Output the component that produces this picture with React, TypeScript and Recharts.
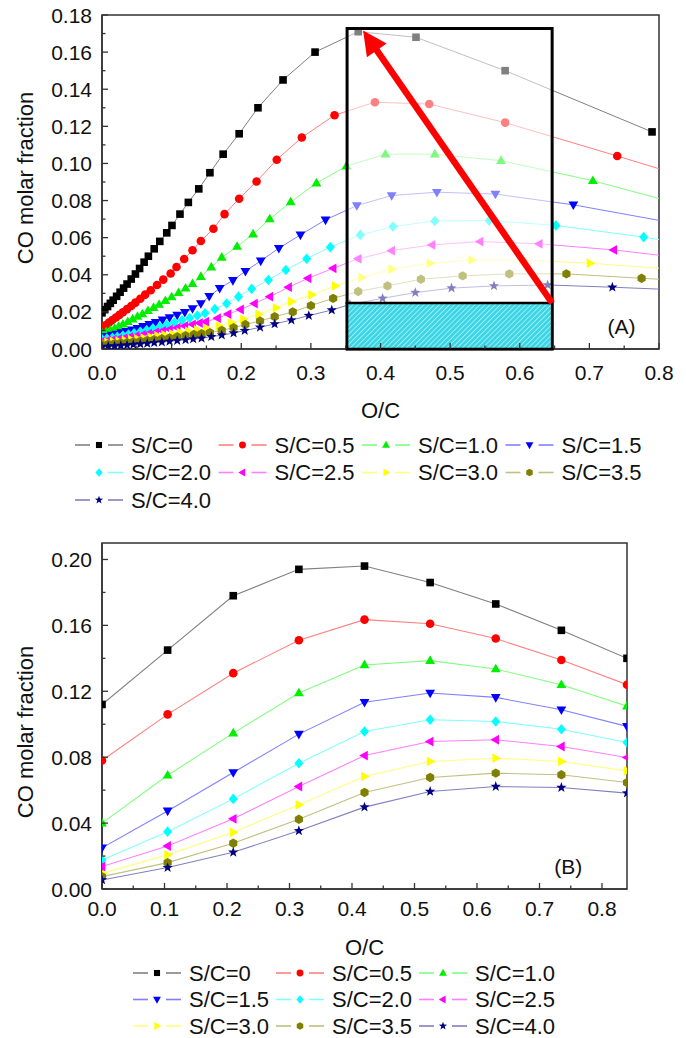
import React from 'react';
import { LineChart, Line, XAxis, YAxis, ReferenceArea, ReferenceLine, ReferenceDot } from 'recharts';

type Pt = [number, number];

const seriesNames = ['S/C=0', 'S/C=0.5', 'S/C=1.0', 'S/C=1.5', 'S/C=2.0', 'S/C=2.5', 'S/C=3.0', 'S/C=3.5', 'S/C=4.0'];
const markerColors = ['#000000', '#ff0000', '#00ee00', '#0000ff', '#00ffff', '#ff00ff', '#ffff00', '#808000', '#000080'];
const lineColors = ['#808080', '#ff8080', '#80ff80', '#8080ff', '#80ffff', '#ff80ff', '#ffff80', '#c0c080', '#8080c0'];
const shapes = ['square', 'circle', 'up', 'down', 'diamond', 'left', 'right', 'hex', 'star'];

// ---------- Chart (A): O/C vs CO molar fraction ----------
const topSC0: Pt[] = [[0, 0.0195], [0.004, 0.0212], [0.008, 0.0229], [0.012, 0.0246], [0.016, 0.0263], [0.021, 0.0284], [0.026, 0.0306], [0.031, 0.0328], [0.036, 0.035], [0.042, 0.0377], [0.048, 0.0404], [0.054, 0.0434], [0.0605, 0.0468], [0.0666, 0.05], [0.075, 0.054], [0.083, 0.058], [0.093, 0.0626], [0.1005, 0.0666], [0.112, 0.0727], [0.124, 0.079], [0.139, 0.0863], [0.155, 0.095], [0.174, 0.105], [0.197, 0.116], [0.224, 0.13], [0.26, 0.145], [0.306, 0.16], [0.368, 0.171], [0.451, 0.168], [0.579, 0.15], [0.79, 0.117]];
const topSC05: Pt[] = [[0, 0.0115], [0.005, 0.0128], [0.01, 0.0142], [0.015, 0.0156], [0.02, 0.017], [0.025, 0.0184], [0.03, 0.0198], [0.036, 0.0215], [0.042, 0.0232], [0.048, 0.025], [0.055, 0.0271], [0.062, 0.0293], [0.07, 0.0317], [0.079, 0.0345], [0.088, 0.0374], [0.0986, 0.0407], [0.107, 0.0442], [0.118, 0.0485], [0.13, 0.0532], [0.142, 0.0582], [0.16, 0.0648], [0.176, 0.0727], [0.197, 0.081], [0.222, 0.0903], [0.251, 0.102], [0.287, 0.114], [0.334, 0.126], [0.392, 0.133], [0.47, 0.132], [0.579, 0.122], [0.74, 0.104], [0.95, 0.08]];
const topSC10: Pt[] = [[0, 0.0085], [0.006, 0.0093], [0.012, 0.0101], [0.018, 0.0111], [0.024, 0.0122], [0.03, 0.0133], [0.037, 0.0147], [0.044, 0.0161], [0.051, 0.0175], [0.058, 0.0189], [0.066, 0.0206], [0.074, 0.0223], [0.082, 0.024], [0.091, 0.026], [0.1, 0.028], [0.11, 0.0303], [0.12, 0.0327], [0.13, 0.0352], [0.142, 0.039], [0.157, 0.0441], [0.172, 0.0494], [0.194, 0.0552], [0.217, 0.0619], [0.241, 0.0701], [0.271, 0.0792], [0.308, 0.0894], [0.351, 0.0985], [0.407, 0.105], [0.478, 0.105], [0.573, 0.1015], [0.705, 0.0907], [0.88, 0.073]];
const topSC15: Pt[] = [[0, 0.0064], [0.007, 0.0069], [0.014, 0.0075], [0.021, 0.0081], [0.028, 0.0088], [0.035, 0.0095], [0.043, 0.0103], [0.051, 0.0112], [0.059, 0.0122], [0.068, 0.0133], [0.077, 0.0144], [0.087, 0.0157], [0.097, 0.017], [0.108, 0.0183], [0.119, 0.0198], [0.13, 0.0218], [0.142, 0.0245], [0.154, 0.0284], [0.169, 0.0327], [0.188, 0.037], [0.206, 0.0419], [0.228, 0.0475], [0.254, 0.0543], [0.285, 0.0615], [0.321, 0.0696], [0.366, 0.0773], [0.416, 0.0827], [0.481, 0.0845], [0.565, 0.0835], [0.677, 0.0777], [0.9, 0.0625]];
const topSC20: Pt[] = [[0, 0.0052], [0.007, 0.0056], [0.015, 0.0061], [0.022, 0.0066], [0.03, 0.0072], [0.038, 0.0078], [0.046, 0.0085], [0.055, 0.0093], [0.064, 0.0101], [0.073, 0.011], [0.083, 0.012], [0.093, 0.0131], [0.104, 0.0143], [0.115, 0.0155], [0.126, 0.0167], [0.137, 0.018], [0.148, 0.0193], [0.162, 0.0215], [0.179, 0.0245], [0.196, 0.0282], [0.215, 0.0324], [0.239, 0.0372], [0.264, 0.0426], [0.294, 0.0486], [0.328, 0.0549], [0.371, 0.0615], [0.418, 0.066], [0.478, 0.069], [0.556, 0.0692], [0.652, 0.0666], [0.778, 0.0603], [0.95, 0.05]];
const topSC25: Pt[] = [[0, 0.0042], [0.008, 0.0046], [0.016, 0.005], [0.024, 0.0054], [0.032, 0.0059], [0.04, 0.0064], [0.049, 0.007], [0.058, 0.0076], [0.067, 0.0083], [0.077, 0.009], [0.087, 0.0098], [0.097, 0.0106], [0.108, 0.0115], [0.119, 0.0124], [0.13, 0.0133], [0.14, 0.014], [0.149, 0.0147], [0.166, 0.0166], [0.181, 0.0188], [0.199, 0.0213], [0.219, 0.0245], [0.241, 0.0282], [0.268, 0.0333], [0.296, 0.0381], [0.332, 0.0435], [0.368, 0.0486], [0.416, 0.053], [0.474, 0.0561], [0.543, 0.0579], [0.628, 0.0567], [0.735, 0.0534], [0.95, 0.044]];
const topSC30: Pt[] = [[0, 0.0033], [0.008, 0.0036], [0.016, 0.0039], [0.024, 0.0042], [0.033, 0.0046], [0.042, 0.005], [0.051, 0.0054], [0.06, 0.0059], [0.07, 0.0064], [0.08, 0.007], [0.09, 0.0076], [0.101, 0.0082], [0.112, 0.0089], [0.124, 0.0096], [0.137, 0.0103], [0.15, 0.0111], [0.168, 0.0124], [0.186, 0.0141], [0.203, 0.016], [0.225, 0.0187], [0.25, 0.0222], [0.272, 0.0255], [0.301, 0.0292], [0.335, 0.034], [0.373, 0.0385], [0.416, 0.043], [0.471, 0.0462], [0.531, 0.048], [0.604, 0.048], [0.701, 0.0462], [0.95, 0.0395]];
const topSC35: Pt[] = [[0, 0.0023], [0.009, 0.0026], [0.018, 0.0029], [0.027, 0.0032], [0.036, 0.0035], [0.045, 0.0038], [0.055, 0.0042], [0.065, 0.0046], [0.075, 0.005], [0.086, 0.0055], [0.097, 0.006], [0.108, 0.0066], [0.12, 0.0072], [0.132, 0.0078], [0.143, 0.0083], [0.155, 0.0088], [0.172, 0.01], [0.189, 0.0115], [0.206, 0.0132], [0.227, 0.0151], [0.248, 0.0174], [0.274, 0.02], [0.3, 0.0234], [0.332, 0.0273], [0.368, 0.031], [0.41, 0.034], [0.458, 0.0376], [0.518, 0.0394], [0.585, 0.0405], [0.667, 0.0405], [0.775, 0.0381], [0.95, 0.0345]];
const topSC40: Pt[] = [[0, 0.0012], [0.009, 0.0014], [0.018, 0.0016], [0.027, 0.0019], [0.036, 0.0021], [0.045, 0.0024], [0.055, 0.0027], [0.065, 0.003], [0.075, 0.0034], [0.086, 0.0037], [0.097, 0.0041], [0.108, 0.0045], [0.12, 0.0049], [0.131, 0.0054], [0.143, 0.0058], [0.157, 0.0066], [0.172, 0.0075], [0.189, 0.0086], [0.205, 0.0099], [0.227, 0.0117], [0.248, 0.0135], [0.272, 0.0156], [0.297, 0.018], [0.33, 0.021], [0.356, 0.024], [0.403, 0.0273], [0.45, 0.0304], [0.502, 0.0328], [0.563, 0.034], [0.64, 0.0345], [0.733, 0.0333], [0.95, 0.03]];
const topSeries: Pt[][] = [topSC0, topSC05, topSC10, topSC15, topSC20, topSC25, topSC30, topSC35, topSC40];

const topXTicks = [0, 0.05, 0.1, 0.15, 0.2, 0.25, 0.3, 0.35, 0.4, 0.45, 0.5, 0.55, 0.6, 0.65, 0.7, 0.75, 0.8];
const topYTicks = [0, 0.01, 0.02, 0.03, 0.04, 0.05, 0.06, 0.07, 0.08, 0.09, 0.1, 0.11, 0.12, 0.13, 0.14, 0.15, 0.16, 0.17, 0.18];

// inset annotations of chart (A)
const boxOC = [0.352, 0.6465];
const boxTop = 0.1727;
const hatchTop = 0.0248;
const arrowTip = { x: 0.375, y: 0.1716 };

// ---------- Chart (B) ----------
const bottomOC = [0, 0.105, 0.21, 0.315, 0.42, 0.525, 0.63, 0.735, 0.84];
const bSC0 = [0.112, 0.145, 0.178, 0.194, 0.196, 0.186, 0.173, 0.157, 0.14];
const bSC05 = [0.078, 0.106, 0.131, 0.151, 0.1635, 0.161, 0.152, 0.139, 0.124];
const bSC10 = [0.04, 0.069, 0.0946, 0.119, 0.136, 0.1386, 0.1335, 0.124, 0.111];
const bSC15 = [0.025, 0.0474, 0.0707, 0.094, 0.1133, 0.119, 0.1163, 0.1088, 0.0987];
const bSC20 = [0.0176, 0.0348, 0.0547, 0.0763, 0.0956, 0.1027, 0.1017, 0.097, 0.0889];
const bSC25 = [0.0136, 0.0261, 0.0426, 0.0622, 0.081, 0.0895, 0.0906, 0.0865, 0.0798];
const bSC30 = [0.0095, 0.0207, 0.0344, 0.0511, 0.0683, 0.0774, 0.0794, 0.0774, 0.0717];
const bSC35 = [0.0075, 0.016, 0.0278, 0.0423, 0.0586, 0.0677, 0.0703, 0.0693, 0.0646];
const bSC40 = [0.0055, 0.013, 0.0223, 0.0353, 0.0497, 0.0592, 0.0622, 0.0616, 0.0582];
const bottomSeries: number[][] = [bSC0, bSC05, bSC10, bSC15, bSC20, bSC25, bSC30, bSC35, bSC40];

const bottomXTicks = [0, 0.05, 0.1, 0.15, 0.2, 0.25, 0.3, 0.35, 0.4, 0.45, 0.5, 0.55, 0.6, 0.65, 0.7, 0.75, 0.8];
const bottomYTicks = [0, 0.02, 0.04, 0.06, 0.08, 0.1, 0.12, 0.14, 0.16, 0.18, 0.2];

const FONT = '"Liberation Sans", Arial, Helvetica, sans-serif';
const AXIS = '#333333';

function markerEl(shape: string, cx: number, cy: number, fill: string, key: any, k = 1) {
  const p = (arr: number[][]) => arr.map(([a, b]) => `${cx + a * k},${cy + b * k}`).join(' ');
  switch (shape) {
    case 'square':
      return <rect key={key} x={cx - 3.8 * k} y={cy - 3.8 * k} width={7.6 * k} height={7.6 * k} fill={fill} />;
    case 'circle':
      return <circle key={key} cx={cx} cy={cy} r={4.3 * k} fill={fill} />;
    case 'up':
      return <polygon key={key} points={p([[0, -5.3], [4.9, 3.3], [-4.9, 3.3]])} fill={fill} />;
    case 'down':
      return <polygon key={key} points={p([[0, 5.3], [4.9, -3.3], [-4.9, -3.3]])} fill={fill} />;
    case 'diamond':
      return <polygon key={key} points={p([[0, -5.3], [4.5, 0], [0, 5.3], [-4.5, 0]])} fill={fill} />;
    case 'left':
      return <polygon key={key} points={p([[-5.3, 0], [3.3, -4.9], [3.3, 4.9]])} fill={fill} />;
    case 'right':
      return <polygon key={key} points={p([[5.3, 0], [-3.3, -4.9], [-3.3, 4.9]])} fill={fill} />;
    case 'hex': {
      const pts: number[][] = [];
      for (let i = 0; i < 6; i++) {
        const a = (Math.PI / 3) * i + Math.PI / 6;
        pts.push([4.7 * Math.cos(a), 4.7 * Math.sin(a)]);
      }
      return <polygon key={key} points={p(pts)} fill={fill} />;
    }
    default: {
      const pts: number[][] = [];
      for (let i = 0; i < 10; i++) {
        const a = -Math.PI / 2 + (Math.PI / 5) * i;
        const r = i % 2 === 0 ? 5.4 : 2.2;
        pts.push([r * Math.cos(a), r * Math.sin(a)]);
      }
      return <polygon key={key} points={p(pts)} fill={fill} />;
    }
  }
}

const makeDot = (i: number) => (props: any) => {
  const { cx, cy, index } = props;
  if (cx == null || cy == null) return <g key={`e${index}`} />;
  return markerEl(shapes[i], cx, cy, markerColors[i], `d${index}`);
};

const makeYTick = (isMajor: (v: number) => boolean) => (props: any) => {
  const { x, y, payload } = props;
  const v = payload.value as number;
  const maj = isMajor(v);
  return (
    <g>
      <line x1={x} y1={y} x2={x + (maj ? 6 : 3.5)} y2={y} stroke={AXIS} strokeWidth={1.3} />
      {maj && (
        <text x={x - 10} y={y + 7.5} textAnchor="end" fontSize={21} fill="#111" fontFamily={FONT}>
          {v.toFixed(2)}
        </text>
      )}
    </g>
  );
};

const makeXTick = (labelDy: number) => (props: any) => {
  const { x, y, payload } = props;
  const v = payload.value as number;
  const maj = Math.round(v * 100) % 10 === 0;
  return (
    <g>
      <line x1={x} y1={y} x2={x} y2={y - (maj ? 6 : 3.5)} stroke={AXIS} strokeWidth={1.3} />
      {maj && (
        <text x={x} y={y + labelDy} textAnchor="middle" fontSize={21} fill="#111" fontFamily={FONT}>
          {v.toFixed(1)}
        </text>
      )}
    </g>
  );
};

const yTitle = (shift: number, fallback: any) => (props: any) => {
  const vb = props && props.viewBox && props.viewBox.height ? props.viewBox : fallback;
  const cx = vb.x + 25;
  const cy = vb.y + vb.height / 2 + shift;
  return (
    <text
      x={cx}
      y={cy}
      transform={`rotate(-90 ${cx} ${cy})`}
      textAnchor="middle"
      dominantBaseline="central"
      fontSize={22}
      fill="#111"
      fontFamily={FONT}
    >
      CO molar fraction
    </text>
  );
};

const ArrowShape = (props: any) => {
  const { x1, y1, x2, y2 } = props;
  if ([x1, y1, x2, y2].some((v) => v == null || isNaN(v))) return <g />;
  const dx = x2 - x1;
  const dy = y2 - y1;
  const len = Math.sqrt(dx * dx + dy * dy);
  const ux = dx / len;
  const uy = dy / len;
  const L = 24;
  const W = 12;
  const bx = x2 - ux * L;
  const by = y2 - uy * L;
  const nx = -uy;
  const ny = ux;
  return (
    <g>
      <line x1={x1} y1={y1} x2={bx + ux * 2} y2={by + uy * 2} stroke="#ff0000" strokeWidth={6.5} />
      <polygon points={`${x2},${y2} ${bx + nx * W},${by + ny * W} ${bx - nx * W},${by - ny * W}`} fill="#ff0000" />
    </g>
  );
};

const legendA = [
  [0, 1, 2, 3],
  [4, 5, 6, 7],
  [8],
];
const legendB = [
  [0, 1, 2],
  [3, 4, 5],
  [6, 7, 8],
];

function LegendItem({ x, y, i, noLeft }: { x: number; y: number; i: number; noLeft?: boolean }) {
  return (
    <g>
      {!noLeft && <line x1={x} y1={y} x2={x + 15} y2={y} stroke={lineColors[i]} strokeWidth={1.6} />}
      <line x1={x + 33} y1={y} x2={x + 48} y2={y} stroke={lineColors[i]} strokeWidth={1.6} />
      {markerEl(shapes[i], x + 24, y, markerColors[i], `l${i}`, 0.8)}
      <text x={x + 56} y={y + 7.9} fontSize={22} fill="#111" fontFamily={FONT}>
        {seriesNames[i]}
      </text>
    </g>
  );
}

export default function App() {
  return (
    <div style={{ position: 'absolute', left: 0, top: 0, width: 686, height: 1038, background: '#fff', fontFamily: FONT }}>
      {/* Chart A */}
      <div style={{ position: 'absolute', left: 0, top: 0 }}>
        <LineChart width={686} height={430} margin={{ top: 15, right: 27, left: 0, bottom: 0 }}>
          <XAxis
            dataKey="x"
            type="number"
            domain={[0, 0.8]}
            allowDataOverflow
            ticks={topXTicks}
            interval={0}
            tickSize={0}
            tickMargin={0}
            tickLine={false}
            tick={makeXTick(31)}
            height={81}
            axisLine={{ stroke: AXIS, strokeWidth: 1.5 }}
            label={{ value: 'O/C', position: 'insideBottom', offset: 12, fontSize: 22, fill: '#111' }}
          />
          <YAxis
            type="number"
            domain={[0, 0.18]}
            allowDataOverflow
            ticks={topYTicks}
            interval={0}
            tickSize={0}
            tickMargin={0}
            tickLine={false}
            tick={makeYTick((v) => Math.round(v * 100) % 2 === 0)}
            width={102}
            axisLine={{ stroke: AXIS, strokeWidth: 1.5 }}
            label={{ content: yTitle(-4, { x: 0, y: 15, width: 102, height: 334 }) }}
          />
          <ReferenceArea x1={0} x2={0.8} y1={0} y2={0.18} fill="none" stroke={AXIS} strokeWidth={1.5} />
          {topSeries.map((s, i) => (
            <Line
              key={seriesNames[i]}
              data={s.map(([x, y]) => ({ x, y }))}
              dataKey="y"
              name={seriesNames[i]}
              type="linear"
              stroke={lineColors[i]}
              strokeWidth={1}
              dot={makeDot(i)}
              activeDot={false}
              isAnimationActive={false}
            />
          ))}
          <ReferenceArea
            x1={boxOC[0]}
            x2={boxOC[1]}
            y1={0}
            y2={boxTop}
            fill="#ffffff"
            fillOpacity={0.5}
            stroke="#000"
            strokeWidth={3}
            zIndex={1500}
          />
          <ReferenceArea
            x1={boxOC[0]}
            x2={boxOC[1]}
            y1={0}
            y2={hatchTop}
            fill="url(#hatchA)"
            fillOpacity={1}
            stroke="#000"
            strokeWidth={2.5}
            zIndex={1600}
          />
          <ReferenceLine
            segment={[
              { x: boxOC[1], y: hatchTop },
              { x: arrowTip.x, y: arrowTip.y },
            ]}
            shape={ArrowShape}
            zIndex={1700}
          />
          <ReferenceDot
            x={0.746}
            y={0.012}
            r={0}
            fill="none"
            stroke="none"
            label={{ value: '(A)', position: 'center', fontSize: 21, fill: '#111' }}
          />
        </LineChart>
      </div>

      {/* Chart B */}
      <div style={{ position: 'absolute', left: 0, top: 520 }}>
        <LineChart width={686} height={440} margin={{ top: 23, right: 59, left: 0, bottom: 0 }}>
          <XAxis
            dataKey="x"
            type="number"
            domain={[0, 0.84]}
            allowDataOverflow
            ticks={bottomXTicks}
            interval={0}
            tickSize={0}
            tickMargin={0}
            tickLine={false}
            tick={makeXTick(26.5)}
            height={71}
            axisLine={{ stroke: AXIS, strokeWidth: 1.5 }}
            label={{ value: 'O/C', position: 'insideBottom', offset: 5, fontSize: 22, fill: '#111' }}
          />
          <YAxis
            type="number"
            domain={[0, 0.21]}
            allowDataOverflow
            ticks={bottomYTicks}
            interval={0}
            tickSize={0}
            tickMargin={0}
            tickLine={false}
            tick={makeYTick((v) => Math.round(v * 100) % 4 === 0)}
            width={102}
            axisLine={{ stroke: AXIS, strokeWidth: 1.5 }}
            label={{ content: yTitle(16, { x: 0, y: 23, width: 102, height: 346 }) }}
          />
          <ReferenceArea x1={0} x2={0.84} y1={0} y2={0.21} fill="none" stroke={AXIS} strokeWidth={1.5} />
          {bottomSeries.map((s, i) => (
            <Line
              key={seriesNames[i]}
              data={bottomOC.map((x, j) => ({ x, y: s[j] }))}
              dataKey="y"
              name={seriesNames[i]}
              type="linear"
              stroke={lineColors[i]}
              strokeWidth={1.1}
              dot={makeDot(i)}
              activeDot={false}
              isAnimationActive={false}
            />
          ))}
          <ReferenceDot
            x={0.746}
            y={0.0136}
            r={0}
            fill="none"
            stroke="none"
            label={{ value: '(B)', position: 'center', fontSize: 21, fill: '#111' }}
          />
        </LineChart>
      </div>

      {/* Legends and pattern defs */}
      <svg width={686} height={1038} style={{ position: 'absolute', left: 0, top: 0, pointerEvents: 'none' }}>
        <defs>
          <pattern id="hatchA" patternUnits="userSpaceOnUse" width={3.6} height={3.6} patternTransform="rotate(45)">
            <rect width={3.6} height={3.6} fill="#3ad6e6" />
            <line x1={0} y1={0} x2={0} y2={3.6} stroke="#ffffff" strokeWidth={1} />
          </pattern>
        </defs>
        {legendA.map((row, r) =>
          row.map((i, c) => (
            <LegendItem key={`a${i}`} x={75 + 143.5 * c} y={[445, 472.5, 500][r]} i={i} noLeft={i === 4} />
          ))
        )}
        {legendB.map((row, r) =>
          row.map((i, c) => <LegendItem key={`b${i}`} x={133 + 143 * c} y={[973, 999.5, 1026][r]} i={i} />)
        )}
      </svg>
    </div>
  );
}
